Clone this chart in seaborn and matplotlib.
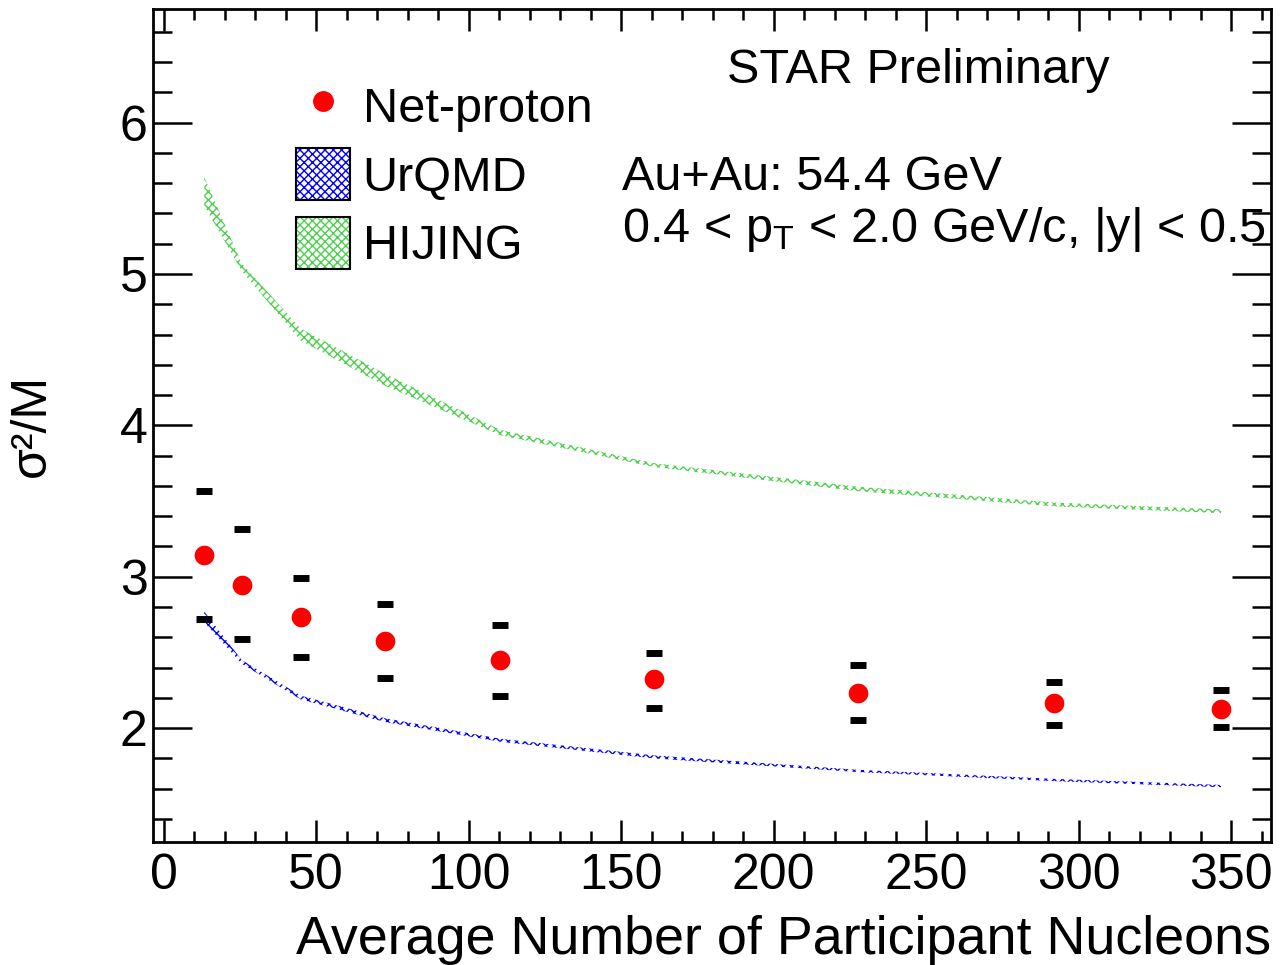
import numpy as np
import pandas as pd
import matplotlib
matplotlib.use('Agg')
import matplotlib.pyplot as plt
import seaborn as sns
from matplotlib.patches import Patch
from matplotlib.lines import Line2D
from matplotlib.ticker import MultipleLocator

# --- data ---
npart = [13.3, 25.6, 44.9, 72.7, 110.4, 160.8, 227.6, 292.0, 346.7]

netp = [3.144, 2.948, 2.734, 2.575, 2.448, 2.322, 2.233, 2.163, 2.126]
netp_sys_lo = [2.719, 2.587, 2.470, 2.333, 2.212, 2.134, 2.053, 2.022, 2.005]
netp_sys_hi = [3.569, 3.314, 2.994, 2.820, 2.683, 2.496, 2.415, 2.306, 2.251]

urqmd_lo = [2.70, 2.425, 2.190, 2.040, 1.910, 1.800, 1.710, 1.650, 1.610]
urqmd_hi = [2.77, 2.450, 2.215, 2.065, 1.930, 1.820, 1.725, 1.665, 1.625]

hijing_lo = [5.45, 5.02, 4.56, 4.26, 3.935, 3.725, 3.565, 3.465, 3.420]
hijing_hi = [5.64, 5.07, 4.64, 4.34, 3.970, 3.750, 3.595, 3.490, 3.445]

BLUE = '#0000ff'
GREEN = '#4fcf4f'

sns.set_style('ticks')
plt.rcParams['font.family'] = ['Liberation Sans', 'DejaVu Sans']
plt.rcParams['mathtext.fontset'] = 'custom'
plt.rcParams['mathtext.rm'] = 'Liberation Sans'
plt.rcParams['mathtext.default'] = 'regular'
plt.rcParams['hatch.linewidth'] = 1.0
for key in ['text.color', 'axes.labelcolor', 'xtick.color', 'ytick.color', 'axes.edgecolor']:
    plt.rcParams[key] = 'black'

W, H = 1280, 965
fig = plt.figure(figsize=(W / 100, H / 100), dpi=100)
ax = fig.add_axes([153.3 / W, 1 - 841.7 / H, (1271 - 153.3) / W, (841.7 - 9) / H])

# model bands
ax.fill_between(npart, hijing_lo, hijing_hi, facecolor='none', edgecolor=GREEN,
                hatch='xxxx', linewidth=0)
ax.fill_between(npart, urqmd_lo, urqmd_hi, facecolor='none', edgecolor=BLUE,
                hatch='xxxx', linewidth=0)

# systematic caps + points
yerr = [np.array(netp) - np.array(netp_sys_lo), np.array(netp_sys_hi) - np.array(netp)]
ax.errorbar(npart, netp, yerr=yerr, fmt='none', ecolor='black', elinewidth=0,
            capsize=5.6, capthick=5.0, zorder=4)
df = pd.DataFrame({'npart': npart, 'val': netp})
sns.scatterplot(data=df, x='npart', y='val', color='red', s=200, linewidth=0,
                ax=ax, zorder=5, legend=False)

ax.set_xlim(-3.4, 363.1)
ax.set_ylim(1.25, 6.75)
ax.xaxis.set_major_locator(MultipleLocator(50))
ax.xaxis.set_minor_locator(MultipleLocator(10))
ax.yaxis.set_major_locator(MultipleLocator(1))
ax.yaxis.set_minor_locator(MultipleLocator(0.2))

ax.tick_params(which='both', direction='in', top=True, right=True, width=1.8, color='black')
ax.tick_params(axis='x', which='major', length=16, labelsize=36, pad=8)
ax.tick_params(axis='x', which='minor', length=8)
ax.tick_params(axis='y', which='major', length=28, labelsize=36, pad=4)
ax.tick_params(axis='y', which='minor', length=14)
for sp in ax.spines.values():
    sp.set_linewidth(2)
    sp.set_color('black')

ax.set_xlabel('Average Number of Participant Nucleons', fontsize=38.8, loc='right')
ax.xaxis.set_label_coords(1.0, -0.088)
ax.set_ylabel('σ²/M', fontsize=36)
ax.yaxis.set_label_coords(-0.088, 0.5)

# legend
h_np = Line2D([], [], marker='o', color='red', linestyle='none', markersize=14)
h_u = (Patch(facecolor='white', edgecolor=BLUE, hatch='xxxx', linewidth=0),
       Patch(facecolor='none', edgecolor='black', linewidth=1.5))
h_h = (Patch(facecolor='white', edgecolor=GREEN, hatch='xxxx', linewidth=0),
       Patch(facecolor='none', edgecolor='black', linewidth=1.5))
ax.legend([h_np, h_u, h_h], ['Net-proton', 'UrQMD', 'HIJING'],
          loc='upper left', bbox_to_anchor=(296 / W, 1 - 80 / H),
          bbox_transform=fig.transFigure, frameon=False, fontsize=35,
          handlelength=1.12, handleheight=1.27, handletextpad=0.25,
          labelspacing=0.33, borderpad=0, borderaxespad=0, numpoints=1)

# annotations
fig.text(727 / W, 1 - 83 / H, 'STAR Preliminary', fontsize=35, va='baseline')
fig.text(622 / W, 1 - 190 / H, 'Au+Au: 54.4 GeV', fontsize=35, va='baseline')
fig.text(622 / W, 1 - 242 / H, r'0.4 < p$_{\mathregular{T}}$ < 2.0 GeV/c, |y| < 0.5',
         fontsize=35, va='baseline')

fig.savefig('out.png', dpi=100)
